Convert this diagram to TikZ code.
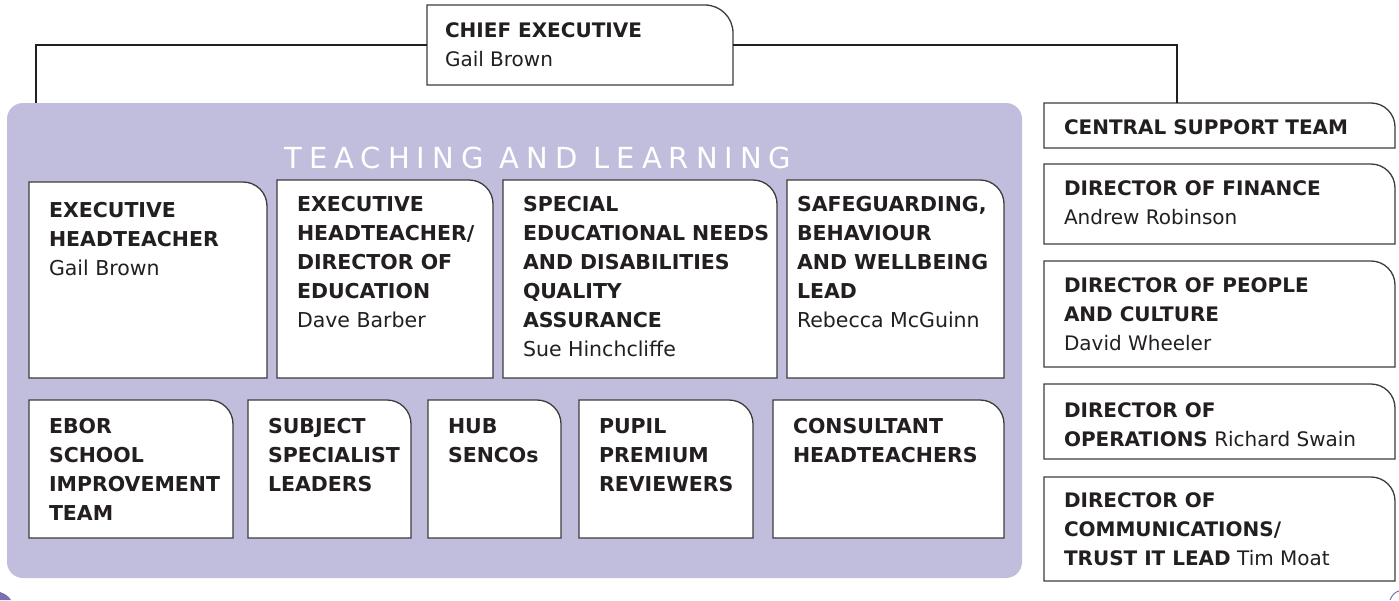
\documentclass[tikz,border=0pt]{standalone}
\usepackage{fontspec}
\setmainfont{DejaVu Sans}
\newfontfamily\titlefont{DejaVu Sans}[LetterSpace=24]
\definecolor{lav}{RGB}{193,190,221}
\definecolor{edgegray}{RGB}{60,60,60}
\definecolor{inkc}{RGB}{35,31,32}
\definecolor{deeppurple}{RGB}{125,110,175}
\pgfdeclarelayer{back}
\pgfsetlayers{back,main}
\tikzset{
  txt/.style={anchor=north west, inner sep=0pt, outer sep=0pt, align=left,
    font=\fontsize{20}{29}\selectfont, text=inkc},
  txtbig/.style={txt, font=\fontsize{20.5}{29}\selectfont},
  cardline/.style={draw=edgegray, line width=1.3pt, fill=white},
  cardbox/.style={inner sep=0pt, outer sep=0pt, draw=none, fill=none},
  conn/.style={draw=inkc, line width=2.4pt},
  panelbox/.style={inner sep=0pt, outer sep=0pt, fill=lav, rounded corners=16pt},
}
% name, x1, y1, x2, y2, corner radius
\newcommand\card[6]{%
  \node[cardbox, minimum width={(#4-#2)*1pt}, minimum height={(#5-#3)*1pt}]
    (#1) at ({(#2+#4)/2},{-(#3+#5)/2}) {};
  \begin{pgfonlayer}{back}
    \draw[cardline] (#1.south west) -- (#1.north west) -- ([xshift=-#6pt]#1.north east)
      arc[start angle=90, end angle=0, radius=#6pt] -- (#1.south east) -- cycle;
  \end{pgfonlayer}}
% name, x, baseline y, text  (right column / chief)
\newcommand\cardtext[4]{\node[txt] (#1) at (#2,{-(#3-14.6)}) {#4};}
% same, slightly larger type (teaching and learning panel)
\newcommand\paneltext[4]{\node[txtbig] (#1) at (#2,{-(#3-14.9)}) {#4};}
\begin{document}
\begin{tikzpicture}[x=1pt,y=1pt]
\useasboundingbox (0,0) rectangle (1399,-600);
\begin{pgfonlayer}{back}
  \node[panelbox, minimum width=1015pt, minimum height=475pt] (panel) at (514.5,-340.5) {};
\end{pgfonlayer}
\node[font=\titlefont\fontsize{29}{32}\selectfont, text=white, inner sep=0pt] (title) at (538,-158) {TEACHING AND LEARNING};

% chief
\card{chief}{427}{5}{733}{85}{28}
\cardtext{chieft}{445}{37}{\textbf{CHIEF EXECUTIVE}\\Gail Brown}

% top row
\card{ta}{29}{182}{267}{378}{24}
\paneltext{tat}{49}{217}{\textbf{EXECUTIVE}\\\textbf{HEADTEACHER}\\Gail Brown}
\card{tb}{277}{180}{493}{378}{24}
\paneltext{tbt}{297}{211}{\textbf{EXECUTIVE}\\\textbf{HEADTEACHER/}\\\textbf{DIRECTOR OF}\\\textbf{EDUCATION}\\Dave Barber}
\card{tc}{503}{180}{777}{378}{24}
\paneltext{tct}{523}{211}{\textbf{SPECIAL}\\\textbf{EDUCATIONAL NEEDS}\\\textbf{AND DISABILITIES}\\\textbf{QUALITY}\\\textbf{ASSURANCE}\\Sue Hinchcliffe}
\card{td}{787}{180}{1004}{378}{24}
\paneltext{tdt}{797}{211}{\textbf{SAFEGUARDING,}\\\textbf{BEHAVIOUR}\\\textbf{AND WELLBEING}\\\textbf{LEAD}\\Rebecca McGuinn}

% bottom row
\card{ba}{29}{400}{233}{538}{24}
\paneltext{bat}{49}{433}{\textbf{EBOR}\\\textbf{SCHOOL}\\\textbf{IMPROVEMENT}\\\textbf{TEAM}}
\card{bb}{248}{400}{411}{538}{24}
\paneltext{bbt}{268}{433}{\textbf{SUBJECT}\\\textbf{SPECIALIST}\\\textbf{LEADERS}}
\card{bc}{428}{400}{561}{538}{24}
\paneltext{bct}{448}{433}{\textbf{HUB}\\\textbf{SENCOs}}
\card{bd}{579}{400}{753}{538}{24}
\paneltext{bdt}{599}{433}{\textbf{PUPIL}\\\textbf{PREMIUM}\\\textbf{REVIEWERS}}
\card{be}{773}{400}{1004}{538}{24}
\paneltext{bet}{793}{433}{\textbf{CONSULTANT}\\\textbf{HEADTEACHERS}}

% right column
\card{central}{1044}{103}{1395}{148}{24}
\cardtext{centralt}{1064}{134}{\textbf{CENTRAL SUPPORT TEAM}}
\card{ra}{1044}{164}{1395}{244}{24}
\cardtext{rat}{1064}{195}{\textbf{DIRECTOR OF FINANCE}\\Andrew Robinson}
\card{rb}{1044}{261}{1395}{367}{24}
\cardtext{rbt}{1064}{292}{\textbf{DIRECTOR OF PEOPLE}\\\textbf{AND CULTURE}\\David Wheeler}
\card{rc}{1044}{384}{1395}{459}{24}
\cardtext{rct}{1064}{417}{\textbf{DIRECTOR OF}\\\textbf{OPERATIONS} Richard Swain}
\card{rd}{1044}{477}{1395}{581}{24}
\cardtext{rdt}{1064}{507}{\textbf{DIRECTOR OF}\\\textbf{COMMUNICATIONS/}\\\textbf{TRUST IT LEAD} Tim Moat}

% connectors
\draw[conn] (chief.west) -| ([xshift=29pt]panel.north west);
\draw[conn] (chief.east) -| ([xshift=-42.5pt]central.north);

% fragments of neighbouring shapes at the bottom edge
\fill[deeppurple] (0,-600) -- (0,-592) .. controls (5,-593.5) and (9,-596.5) .. (11,-600) -- cycle;
\draw[deeppurple, line width=1pt] (1390,-600) .. controls (1392,-595) and (1395,-592) .. (1399,-591);
\end{tikzpicture}
\end{document}
